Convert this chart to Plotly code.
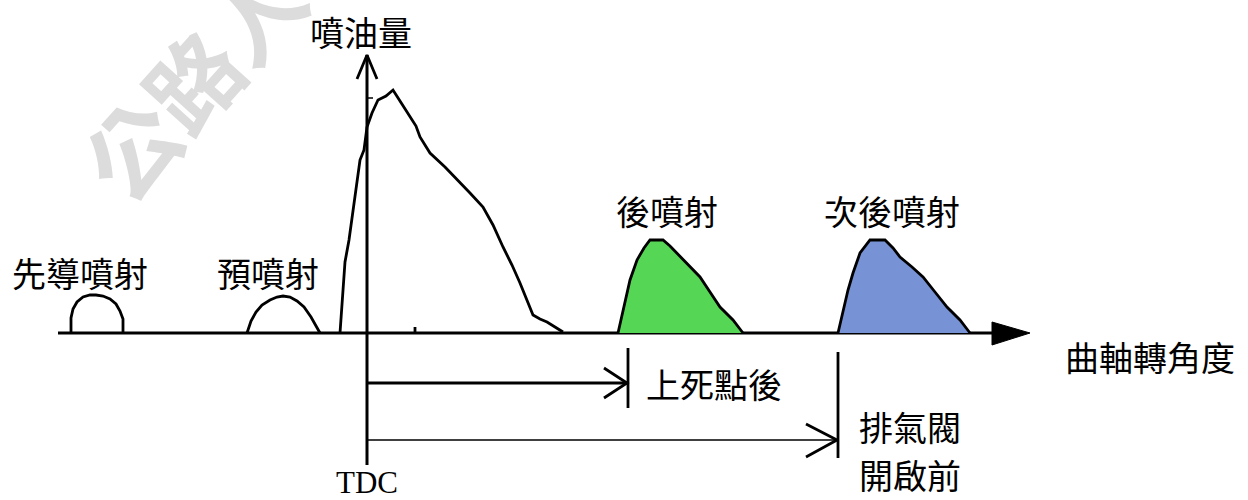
import plotly.graph_objects as go

W, H = 1248, 500

# ---- shape data (diagram units = pixels of the drawing) ----
pilot_x = [71, 71, 73, 77, 83, 90, 96, 103, 110, 116, 120, 123, 123]
pilot_y = [333, 318, 309, 302, 297, 295, 295, 296, 299, 304, 311, 319, 333]

pre_x = [247, 251, 256, 262, 270, 277, 283, 290, 297, 304, 311, 320]
pre_y = [333, 321, 312, 305, 300, 297, 296, 297, 301, 307, 317, 333]

main_x = [340, 342, 345, 349, 353, 357, 360, 364, 367, 372, 378, 386, 393, 400, 410, 416, 420, 430, 445, 457, 470, 483, 493, 503, 512, 520, 527, 533, 540, 547, 555, 563]
main_y = [333, 303, 262, 240, 210, 183, 160, 150, 127, 113, 100, 96, 90, 101, 117, 126, 137, 153, 167, 180, 193, 207, 225, 247, 265, 283, 300, 315, 319, 322, 327, 332]

post_x = [618, 623, 630, 637, 644, 650, 663, 670, 677, 689, 700, 710, 720, 733, 743]
post_y = [333, 310, 280, 260, 248, 240, 240, 246, 253, 265, 277, 292, 307, 320, 333]

post2_x = [838, 843, 848, 853, 860, 870, 885, 893, 900, 912, 923, 935, 947, 960, 970]
post2_y = [333, 310, 290, 273, 253, 240, 240, 248, 257, 267, 277, 292, 307, 320, 333]

base_x = [58, 995]
base_y = [333, 333]
base_head_x = [992, 1030, 992, 992]
base_head_y = [322, 333, 345, 322]

vaxis_x = [367, 367]
vaxis_y = [55, 465]
vhead_x = [357, 367, 377]
vhead_y = [79, 55, 79]

arrow1_x = [367, 627]
arrow1_y = [383, 383]
head1_x = [604, 627, 604]
head1_y = [368, 383, 398]
tick1_x = [628, 628]
tick1_y = [348, 408]

arrow2_x = [367, 837]
arrow2_y = [440, 440]
head2_x = [806, 837, 806]
head2_y = [424, 440, 457]
tick2_x = [838, 838]
tick2_y = [352, 458]

small_tick_x = [415, 415]
small_tick_y = [327, 333]
axis_tick_x = [367, 373]
axis_tick_y = [98, 98]

labels = ["噴油量", "先導噴射", "預噴射", "後噴射", "次後噴射", "曲軸轉角度", "上死點後", "排氣閥", "開啟前"]
label_x = [361, 80, 268, 667, 892, 1150, 714, 910, 910]
label_y = [31, 272, 272, 210, 210, 356, 383, 426, 474]
label_size = [34, 34, 34, 34, 34, 34, 34, 34, 34]

tdc_label = "TDC"
tdc_x, tdc_y = 367, 482

watermark = "公路人"
wm_x, wm_y = 190, 78

CJK = "Noto Sans CJK TC"

fig = go.Figure()

def line(xs, ys, w=2.8, color="black"):
    fig.add_trace(go.Scatter(x=xs, y=ys, mode="lines",
                             line=dict(color=color, width=w),
                             hoverinfo="skip", showlegend=False))

def filled(xs, ys, fillcolor, w=2.8):
    fig.add_trace(go.Scatter(x=xs, y=ys, mode="lines", fill="toself",
                             fillcolor=fillcolor,
                             line=dict(color="black", width=w),
                             hoverinfo="skip", showlegend=False))

# watermark (below everything)
fig.add_annotation(x=wm_x, y=wm_y, text=watermark, showarrow=False,
                   textangle=-48, font=dict(family=CJK, size=92, color="#dcdcdc",
                                            weight="bold"))

line(base_x, base_y, 3)
filled(base_head_x, base_head_y, "black", 1)
line(vaxis_x, vaxis_y, 3)
line(vhead_x, vhead_y)
line(pilot_x, pilot_y)
line(pre_x, pre_y)
line(main_x, main_y)
filled(post_x, post_y, "#55d655")
filled(post2_x, post2_y, "#7793d6")
line(arrow1_x, arrow1_y)
line(head1_x, head1_y)
line(tick1_x, tick1_y)
line(arrow2_x, arrow2_y, 1.6)
line(head2_x, head2_y)
line(tick2_x, tick2_y)
line(small_tick_x, small_tick_y)
line(axis_tick_x, axis_tick_y, 1.5)

for t, x, y, s in zip(labels, label_x, label_y, label_size):
    fig.add_annotation(x=x, y=y, text=t, showarrow=False,
                       font=dict(family=CJK, size=s, color="black"))

fig.add_annotation(x=tdc_x, y=tdc_y, text=tdc_label, showarrow=False,
                   font=dict(family="Liberation Serif", size=31, color="black"))

fig.update_layout(
    width=W, height=H,
    margin=dict(l=0, r=0, t=0, b=0),
    paper_bgcolor="white", plot_bgcolor="white",
    xaxis=dict(range=[0, W], visible=False, fixedrange=True),
    yaxis=dict(range=[H, 0], visible=False, fixedrange=True),
)

fig.write_html("out.html", config={"displayModeBar": False},
               post_script="document.body.style.margin='0';document.body.style.overflow='hidden';")
